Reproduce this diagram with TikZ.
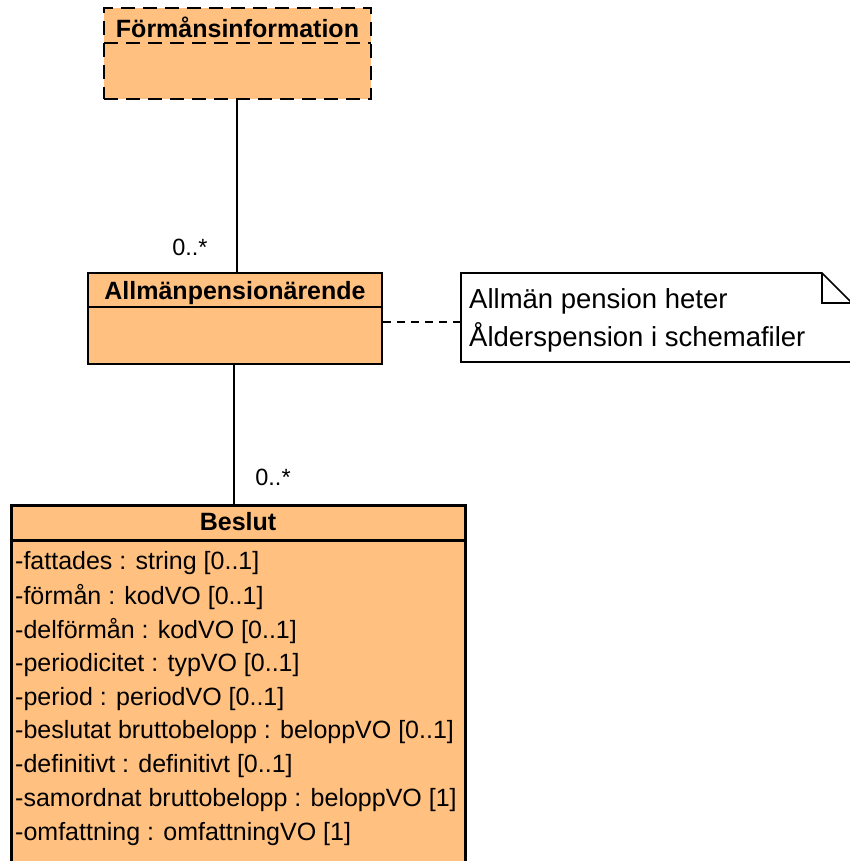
\documentclass[tikz,border=0pt]{standalone}
\usepackage{fontspec}
\setmainfont{Liberation Sans}
\usetikzlibrary{positioning}
\definecolor{classfill}{RGB}{255,192,128}

\begin{document}
\begin{tikzpicture}[x=1pt, y=-1pt,
    classbox/.style={draw, fill=classfill, line width=1.6pt, inner sep=0pt},
    title/.style={font=\fontsize{25}{28}\selectfont\bfseries, inner sep=0pt},
    attr/.style={anchor=west, font=\fontsize{25}{28}\selectfont, inner sep=0pt},
    notetext/.style={anchor=west, font=\fontsize{27.5}{30}\selectfont, inner sep=0pt},
    mult/.style={font=\fontsize{23.5}{26}\selectfont, inner sep=0pt},
    assoc/.style={line width=1.5pt}]
  \useasboundingbox (0,0) rectangle (850,861);
  % Formansinformation (dashed)
  \node[classbox, dash pattern=on 14pt off 8pt, minimum width=267pt, minimum height=91pt] (formans) at (237.5,53.5) {};
  \draw[line width=1.6pt, dash pattern=on 14pt off 8pt] (104,43) -- (371,43);
  \node[title] (formanstitle) at (237.5,27) {Förmånsinformation};
  % Allmanpensionarende
  \node[classbox, minimum width=294pt, minimum height=91pt] (arende) at (235,318.5) {};
  \draw[line width=1.6pt] (88,307) -- (382,307);
  \node[title] (arendetitle) at (235,293) {Allmänpensionärende};
  % note
  \draw[line width=1.6pt, fill=white] (461,273) -- (822,273) -- (870,321) -- (870,362) -- (461,362) -- cycle;
  \draw[line width=1.6pt] (822,273) -- (822,303) -- (852,303);
  \node[notetext] (note1) at (469,301) {Allmän pension heter};
  \node[notetext] (note2) at (469,337) {Ålderspension i schemafiler};
  \coordinate (noteleft) at (461,322);
  \draw[assoc, dash pattern=on 8pt off 6pt] (arende.east |- noteleft) -- (noteleft);
  % Beslut
  \node[classbox, line width=3pt, minimum width=454pt, minimum height=380pt] (beslut) at (238,695) {};
  \draw[line width=3pt] (11,540) -- (465,540);
  \node[title] (beslutitle) at (238,522) {Beslut};
  \foreach \i/\txt in {0/{-fattades : string [0..1]},
                       1/{-förmån : kodVO [0..1]},
                       2/{-delförmån : kodVO [0..1]},
                       3/{-periodicitet : typVO [0..1]},
                       4/{-period : periodVO [0..1]},
                       5/{-beslutat bruttobelopp : beloppVO [0..1]},
                       6/{-definitivt : definitivt [0..1]},
                       7/{-samordnat bruttobelopp : beloppVO [1]},
                       8/{-omfattning : omfattningVO [1]}}
    \node[attr] (attr\i) at (15,{563+33.9*\i}) {\txt};
  % associations
  \draw[assoc] (237,99) -- (237,273);
  \draw[assoc] (234,364) -- (234,505);
  \node[mult] (mult1) at (190,247) {0..*};
  \node[mult] (mult2) at (273,477) {0..*};
\end{tikzpicture}
\end{document}
